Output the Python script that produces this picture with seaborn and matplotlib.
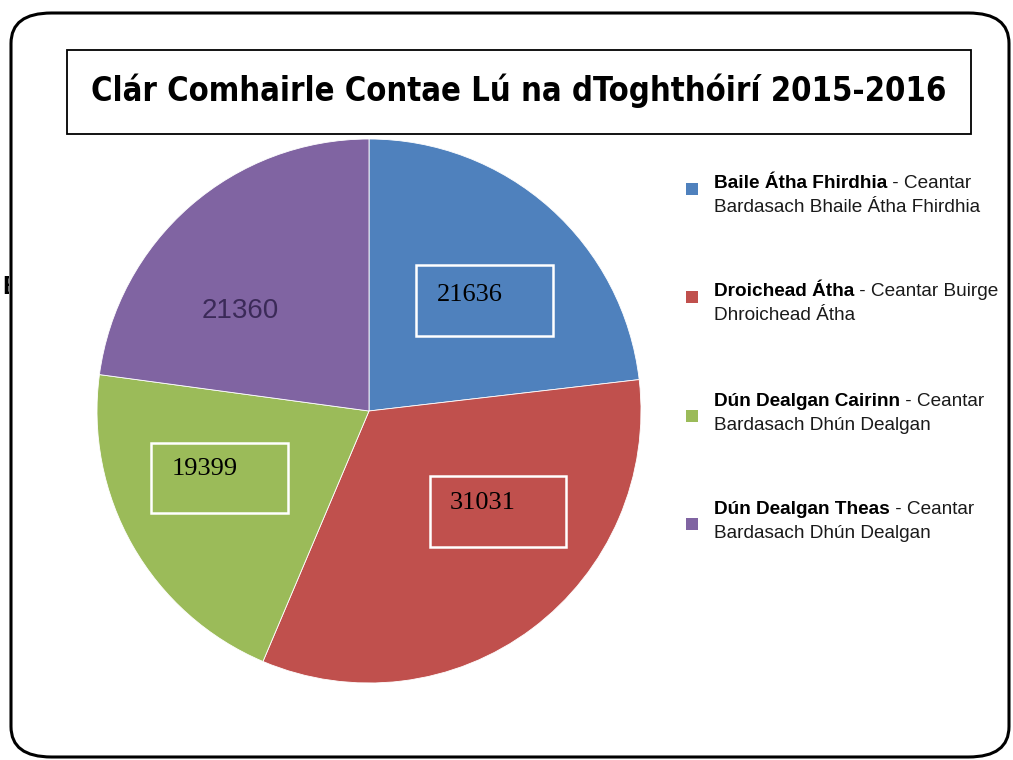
import matplotlib
matplotlib.use("Agg")
import matplotlib.pyplot as plt
import seaborn as sns
from matplotlib.patches import Rectangle, FancyBboxPatch
from matplotlib import font_manager

# data
areas_bold = ["Baile Átha Fhirdhia", "Droichead Átha", "Dún Dealgan Cairinn", "Dún Dealgan Theas"]
areas_rest = [" - Ceantar", " - Ceantar Buirge", " - Ceantar", " - Ceantar"]
areas_line2 = ["Bardasach Bhaile Átha Fhirdhia", "Dhroichead Átha",
               "Bardasach Dhún Dealgan", "Bardasach Dhún Dealgan"]
electors = [21636, 31031, 19399, 21360]
colors = ["#4F81BD", "#C0504D", "#9BBB59", "#8064A2"]
title = "Clár Comhairle Contae Lú na dToghthóirí 2015-2016"

sns.set_theme(style="white")
plt.rcParams["font.family"] = ["Liberation Sans", "DejaVu Sans"]

W, H = 1013, 760
fig = plt.figure(figsize=(W / 100, H / 100), dpi=100)
renderer = fig.canvas.get_renderer()


def fx(px):
    return px / W


def fy(py):
    return 1 - py / H


# look for a condensed bold face for the title
narrow = None
for f in font_manager.fontManager.ttflist:
    name = f.fname.lower()
    if ("condensed" in name or "narrow" in name) and "bold" in name \
            and "italic" not in name and "oblique" not in name \
            and "semi" not in name and "extra" not in name:
        narrow = f.fname
        break
if narrow:
    title_font = font_manager.FontProperties(fname=narrow, size=30)
else:
    title_font = font_manager.FontProperties(family="Liberation Sans", weight="bold", size=30)

# outer rounded frame (on top), with a stray letter peeking out on the left
fig.patches.append(FancyBboxPatch((fx(11), fy(757)), fx(1009) - fx(11), fy(13) - fy(757),
                                  boxstyle="round,pad=0,rounding_size=0.04",
                                  transform=fig.transFigure, fill=False,
                                  edgecolor="black", linewidth=2.2, zorder=6))
fig.text(fx(2), fy(287), "E", fontsize=19, fontweight="bold", color="black",
         ha="left", va="center", zorder=3)
fig.patches.append(Rectangle((fx(9), fy(315)), fx(30), fy(260) - fy(315),
                             transform=fig.transFigure, facecolor="white",
                             edgecolor="none", zorder=4))

# title box
fig.patches.append(Rectangle((fx(67), fy(134)), fx(971) - fx(67), fy(50) - fy(134),
                             transform=fig.transFigure, facecolor="white",
                             edgecolor="black", linewidth=1.3))
tt = fig.text(fx(519), fy(91), title, ha="center", va="center", color="black",
              fontproperties=title_font)
# shrink the title so it spans the same width as in the reference
w = tt.get_window_extent(renderer).width
title_font.set_size(30 * 854 / w)
tt.set_fontproperties(title_font)

# pie
cx, cy, r = 369, 411, 272
ax = fig.add_axes([fx(cx - r), fy(cy + r), fx(2 * r), fy(cy - r) - fy(cy + r)])
ax.pie(electors, colors=colors, startangle=90, counterclock=False,
       wedgeprops={"edgecolor": "white", "linewidth": 0.6})
ax.set_xlim(-1, 1)
ax.set_ylim(-1, 1)
ax.set_aspect("equal")
ax.axis("off")

# value labels (three boxed, one plain)
boxes = [(416, 265, 553, 336, 437, 295), (430, 476, 566, 547, 450, 503),
         (151, 443, 288, 513, 172, 469), None]
for v, b in zip(electors, boxes):
    if b is None:
        fig.text(fx(202), fy(311), str(v), fontsize=20, color="#3b2a58",
                 ha="left", va="center")
        continue
    x0, y0, x1, y1, tx, ty = b
    fig.patches.append(Rectangle((fx(x0), fy(y1)), fx(x1) - fx(x0), fy(y0) - fy(y1),
                                 transform=fig.transFigure, fill=False,
                                 edgecolor="white", linewidth=1.8))
    fig.text(fx(tx), fy(ty), str(v), fontsize=19, family="Liberation Serif",
             color="black", ha="left", va="center")

# legend
line1_y = [184, 292, 401, 510]
marker_y = [189, 297, 416, 524]
for i in range(4):
    fig.patches.append(Rectangle((fx(686), fy(marker_y[i] + 6)), fx(12), fy(0) - fy(12),
                                 transform=fig.transFigure, facecolor=colors[i],
                                 edgecolor="none"))
    t = fig.text(fx(714), fy(line1_y[i]), areas_bold[i], fontsize=13.7,
                 fontweight="bold", color="black", ha="left", va="center")
    bb = t.get_window_extent(renderer)
    fig.text(bb.x1 / W, fy(line1_y[i]), areas_rest[i], fontsize=13.7,
             color="#1a1a1a", ha="left", va="center")
    fig.text(fx(714), fy(line1_y[i] + 24), areas_line2[i], fontsize=13.7,
             color="#1a1a1a", ha="left", va="center")

fig.savefig("out.png", dpi=100)
